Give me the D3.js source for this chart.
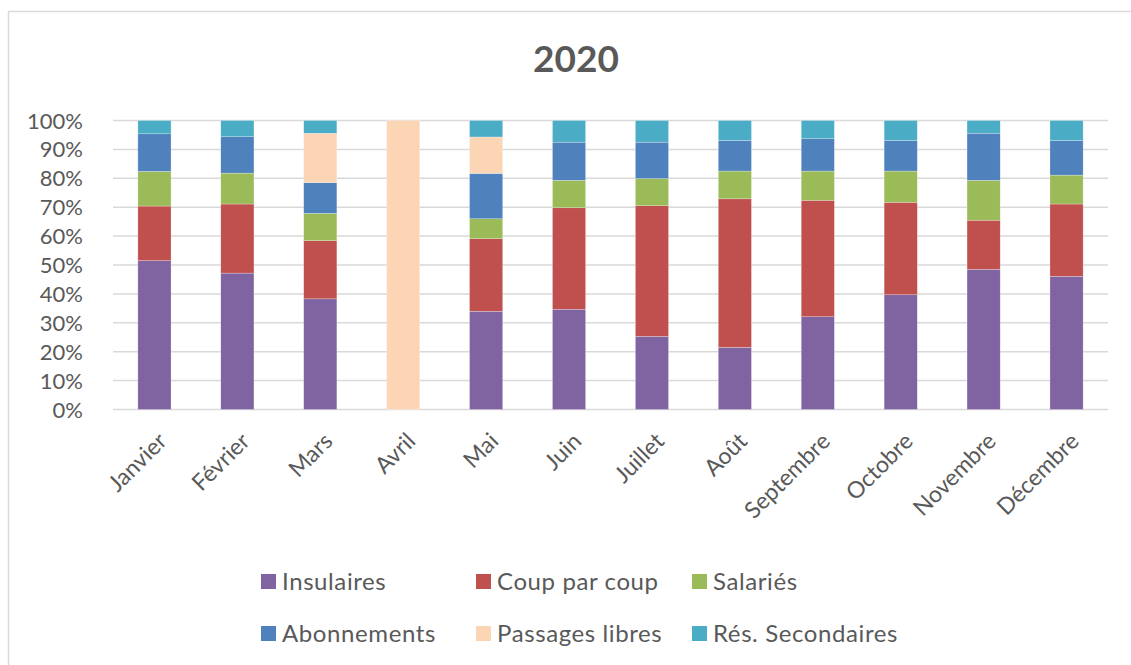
<!DOCTYPE html>
<html>
<head>
<meta charset="utf-8">
<script src="https://cdn.jsdelivr.net/npm/d3@7"></script>
<style>
  body { margin: 0; background: #fff; }
  svg { display: block; font-family: Lato, "Open Sans", sans-serif; }
</style>
</head>
<body>
<div id="chart"></div>
<script>
// data (shares in %)
const months = ["Janvier", "Février", "Mars", "Avril", "Mai", "Juin", "Juillet", "Août", "Septembre", "Octobre", "Novembre", "Décembre"];
const seriesNames = ["Insulaires", "Coup par coup", "Salariés", "Abonnements", "Passages libres", "Rés. Secondaires"];
const insulaires   = [51.5, 47.2, 38.3, 0, 34.0, 34.7, 25.3, 21.5, 32.1, 39.7, 48.5, 46.1];
const coupParCoup  = [18.9, 23.9, 20.1, 0, 25.1, 35.1, 45.2, 51.4, 40.3, 32.0, 17.0, 25.0];
const salaries     = [12.0, 10.7, 9.5, 0, 6.9, 9.5, 9.4, 9.6, 10.1, 10.8, 13.8, 10.0];
const abonnements  = [13.0, 12.6, 10.6, 0, 15.7, 13.2, 12.6, 10.6, 11.2, 10.6, 16.3, 12.0];
const passages     = [0, 0, 17.1, 100, 12.6, 0, 0, 0, 0, 0, 0, 0];
const resSecond    = [4.6, 5.6, 4.4, 0, 5.7, 7.5, 7.5, 6.9, 6.3, 6.9, 4.4, 6.9];
const yTicks = [0, 0.1, 0.2, 0.3, 0.4, 0.5, 0.6, 0.7, 0.8, 0.9, 1];
const colors = ["#8064A2", "#C0504D", "#9BBB59", "#4F81BD", "#FCD5B5", "#4BACC6"];

const W = 1131, H = 665;
const textCol = "#595959", gridCol = "#D9D9D9";

const svg = d3.select("#chart").append("svg").attr("width", W).attr("height", H);

// chart frame
svg.append("rect")
    .attr("x", 8.5).attr("y", 11.5)
    .attr("width", 1140).attr("height", 680)
    .attr("fill", "none").attr("stroke", gridCol).attr("stroke-width", 1.5);

svg.append("text")
    .attr("x", 576).attr("y", 72)
    .attr("text-anchor", "middle")
    .style("font-size", "37px").style("font-weight", "bold")
    .attr("fill", textCol)
    .text("2020");

// build rows for the stack
const cols = [insulaires, coupParCoup, salaries, abonnements, passages, resSecond];
const rows = months.map((m, i) => {
    let r = { month: m };
    let tot = d3.sum(cols, c => c[i]);
    seriesNames.forEach((s, k) => r[s] = cols[k][i] / tot);
    return r;
});
const stacked = d3.stack().keys(seriesNames)(rows);

const x = d3.scaleBand().domain(months).range([113, 1108]).paddingInner(0.6).paddingOuter(0.3);
const y = d3.scaleLinear().domain([0, 1]).range([409.5, 120.5]);

// grid
svg.append("g").selectAll("line")
    .data(yTicks)
    .join("line")
    .attr("x1", 113).attr("x2", 1108)
    .attr("y1", d => y(d)).attr("y2", d => y(d))
    .attr("stroke", gridCol).attr("stroke-width", 1.5);

// y labels
svg.append("g").selectAll("text")
    .data(yTicks)
    .join("text")
    .attr("x", 83).attr("y", d => y(d) + 8)
    .attr("text-anchor", "end")
    .style("font-size", "22px")
    .attr("fill", textCol)
    .text(d3.format(".0%"));

// bars
svg.append("g").selectAll("g")
    .data(stacked)
    .join("g")
    .attr("fill", (d, i) => colors[i])
    .selectAll("rect")
    .data(d => d)
    .join("rect")
    .attr("x", d => x(d.data.month))
    .attr("width", x.bandwidth())
    .attr("y", d => y(d[1]))
    .attr("height", d => y(d[0]) - y(d[1]))
    .attr("stroke", "#fff").attr("stroke-width", 0.5).attr("stroke-opacity", 0.5);

// x labels, rotated
svg.append("g").selectAll("text")
    .data(months)
    .join("text")
    .attr("transform", d => `translate(${x(d) + x.bandwidth() / 2 + 8},${437}) rotate(-45)`)
    .attr("text-anchor", "end")
    .attr("dy", "0.35em")
    .style("font-size", "23px")
    .attr("fill", textCol)
    .text(d => d);

// legend
const legX = [261, 476, 692];
const legend = svg.append("g").selectAll("g")
    .data(seriesNames)
    .join("g")
    .attr("transform", (d, i) => `translate(${legX[i % 3]},${i < 3 ? 574 : 626})`);
legend.append("rect")
    .attr("width", 15).attr("height", 15)
    .attr("fill", (d, i) => colors[i]);
legend.append("text")
    .attr("x", 21).attr("y", 16)
    .style("font-size", "24px")
    .style("letter-spacing", "0.6px")
    .attr("fill", textCol)
    .text(d => d);
</script>
</body>
</html>
